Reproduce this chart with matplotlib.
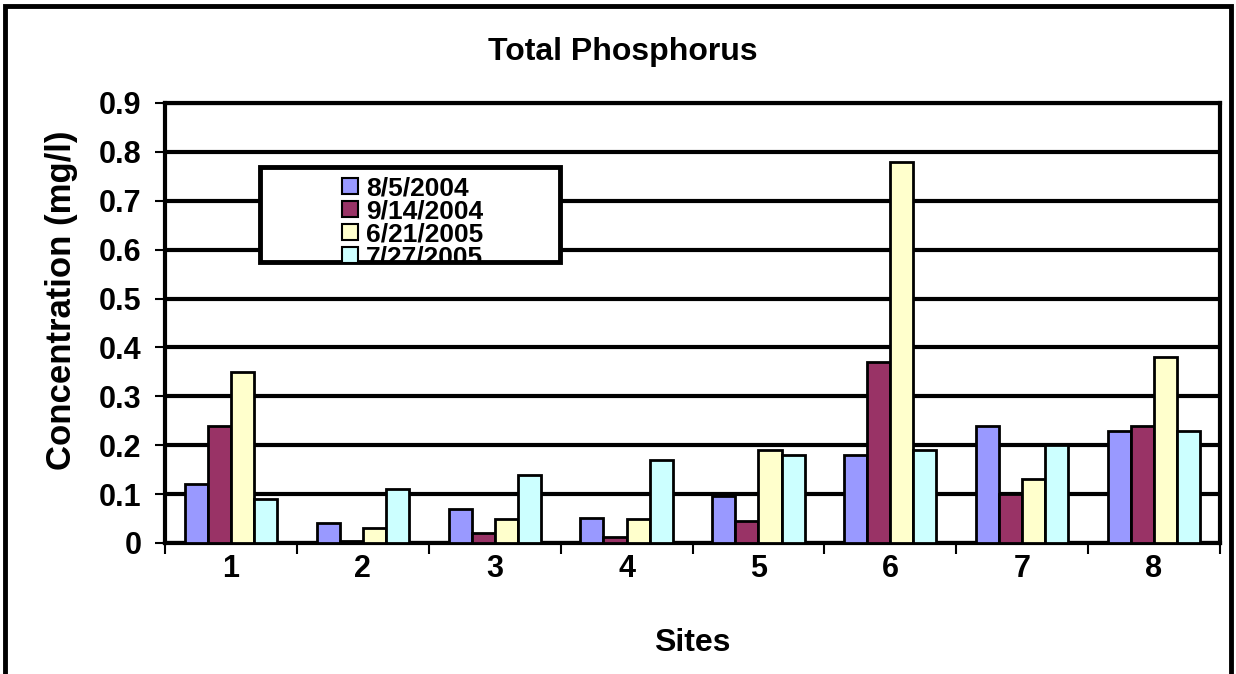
import numpy as np
import matplotlib.pyplot as plt
from matplotlib.patches import Rectangle

# Total phosphorus per site, four sampling dates
sites = ['1', '2', '3', '4', '5', '6', '7', '8']
dates = ['8/5/2004', '9/14/2004', '6/21/2005', '7/27/2005']
tp_080504 = [0.12, 0.04, 0.07, 0.052, 0.097, 0.18, 0.24, 0.23]
tp_091404 = [0.24, 0.005, 0.02, 0.012, 0.045, 0.37, 0.10, 0.24]
tp_062105 = [0.35, 0.03, 0.05, 0.05, 0.19, 0.78, 0.13, 0.38]
tp_072705 = [0.09, 0.11, 0.14, 0.17, 0.18, 0.19, 0.20, 0.23]
colors = ['#9999ff', '#993366', '#ffffcc', '#ccffff']

plt.rcParams['font.family'] = ['Liberation Sans', 'DejaVu Sans']
plt.rcParams['font.weight'] = 'bold'

W, H = 1236, 674
fig = plt.figure(figsize=(W / 100, H / 100), dpi=100)
ax = fig.add_axes([165 / W, 1 - 543 / H, (1220 - 165) / W, (543 - 103) / H])

x = np.arange(len(sites))
w = 0.175
series = [tp_080504, tp_091404, tp_062105, tp_072705]
for i, (vals, c) in enumerate(zip(series, colors)):
    ax.bar(x + (i - 1.5) * w, vals, w, color=c, edgecolor='black', linewidth=2,
           zorder=3)

ax.set_xlim(-0.5, len(sites) - 0.5)
ax.set_ylim(0, 0.9)
ax.set_yticks(np.arange(0, 0.91, 0.1))
ax.set_yticklabels(['0'] + ['%.1f' % v for v in np.arange(0.1, 0.91, 0.1)])
ax.yaxis.grid(True, color='black', linewidth=3, zorder=1)
ax.set_axisbelow(True)

ax.set_xticks(x)
ax.set_xticklabels(sites)
ax.set_xticks(np.arange(-0.5, len(sites)), minor=True)
ax.tick_params(axis='x', which='major', length=0, pad=8, labelsize=22)
ax.tick_params(axis='x', which='minor', length=8, width=1.5)
ax.tick_params(axis='y', length=7, width=1.5, labelsize=22, pad=10)

for s in ax.spines.values():
    s.set_linewidth(3)

ax.set_xlabel('Sites', fontsize=23, fontweight='bold')
ax.xaxis.set_label_coords(0.5, (543 - 628) / 440)
ax.set_ylabel('Concentration (mg/l)', fontsize=25, fontweight='bold')
ax.yaxis.set_label_coords((78 - 165) / 1055, (543 - 300) / 440)
fig.text(623 / W, 1 - 52 / H, 'Total Phosphorus', ha='center', va='center',
         fontsize=23, fontweight='bold')

# legend box: the last entry runs past the bottom edge and is cut off
box = Rectangle((260 / W, 1 - 262 / H), 300 / W, 95 / H,
                transform=fig.transFigure, facecolor='white', edgecolor='black',
                linewidth=3.5, zorder=10)
fig.patches.append(box)
for i, (lab, c) in enumerate(zip(dates, colors)):
    yc = 186 + 23 * i
    sq = Rectangle((342 / W, 1 - (yc + 8) / H), 16 / W, 16 / H,
                   transform=fig.transFigure, facecolor=c, edgecolor='black',
                   linewidth=1.5, zorder=11)
    fig.patches.append(sq)
    sq.set_clip_path(box)
    t = fig.text(366 / W, 1 - yc / H, lab, ha='left', va='center_baseline',
                 fontsize=19, fontweight='bold', zorder=12)
    t.set_clip_path(box)

# outer chart frame
fig.patches.append(Rectangle((5 / W, -0.05), 1226 / W, 1.05 - 6 / H,
                             transform=fig.transFigure, fill=False,
                             edgecolor='black', linewidth=3.5))

fig.savefig('out.png', dpi=100)
